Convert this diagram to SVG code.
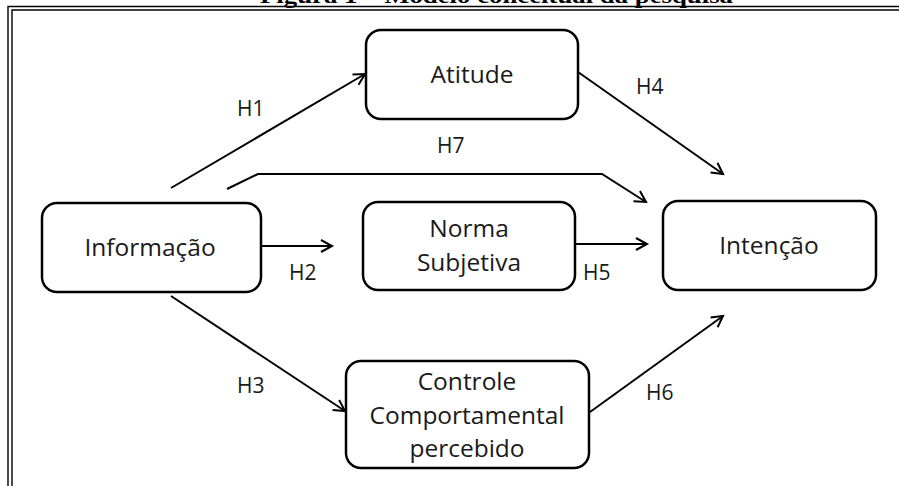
<svg xmlns="http://www.w3.org/2000/svg" width="899" height="486" viewBox="0 0 899 486">
<style>
.node rect{fill:#fff;stroke:#000;stroke-width:2.5}
.node text{font-family:"Open Sans","Liberation Sans",sans-serif;font-size:24.5px;fill:#1a1a1a;text-anchor:middle}
.lbl{font-family:"Open Sans","Liberation Sans",sans-serif;font-size:21px;fill:#1a1a1a}
.conn{fill:none;stroke:#000;stroke-width:2;marker-end:url(#arr)}
.frame{stroke:#000;stroke-width:1.4;fill:none}
</style>
<defs>
<marker id="arr" markerUnits="userSpaceOnUse" markerWidth="16" markerHeight="16" refX="12" refY="7" orient="auto" viewBox="0 0 16 14">
<path d="M1,1 L12,7 L1,13" fill="none" stroke="#000" stroke-width="2"/>
</marker>
</defs>
<rect width="899" height="486" fill="#fff"/>
<text x="260" y="3" font-family="Liberation Serif,serif" font-weight="bold" font-size="22" textLength="473" lengthAdjust="spacingAndGlyphs" fill="#000">Figura 1 – Modelo conceitual da pesquisa</text>
<g id="frame">
<path class="frame" d="M8,486 V6.5 H899 M12,486 V10 H899"/>
</g>
<g id="connectors">
<line class="conn" x1="171" y1="188" x2="365" y2="74"/>
<polyline class="conn" points="227,189 258,174 602,174 646,202"/>
<line class="conn" x1="578" y1="72" x2="723" y2="174"/>
<line class="conn" x1="261" y1="246" x2="332" y2="246"/>
<line class="conn" x1="575" y1="244" x2="647" y2="244"/>
<line class="conn" x1="171" y1="296" x2="345" y2="411"/>
<line class="conn" x1="590" y1="412" x2="723" y2="316"/>
</g>
<g id="labels">
<text class="lbl" x="237" y="116">H1</text>
<text class="lbl" x="636" y="94">H4</text>
<text class="lbl" x="437" y="153">H7</text>
<text class="lbl" x="289" y="280">H2</text>
<text class="lbl" x="583" y="280">H5</text>
<text class="lbl" x="237" y="393">H3</text>
<text class="lbl" x="646" y="400">H6</text>
</g>
<g id="informacao" class="node">
<rect x="42" y="203" width="219" height="89" rx="15"/>
<text x="150" y="256">Informação</text>
</g>
<g id="atitude" class="node">
<rect x="366" y="30" width="212" height="89" rx="15"/>
<text x="472" y="83">Atitude</text>
</g>
<g id="norma" class="node">
<rect x="363" y="202" width="212" height="88" rx="15"/>
<text x="469" y="237">Norma</text>
<text x="469" y="271">Subjetiva</text>
</g>
<g id="intencao" class="node">
<rect x="663" y="201" width="213" height="89" rx="15"/>
<text x="769" y="254">Intenção</text>
</g>
<g id="controle" class="node">
<rect x="346" y="361" width="243" height="107" rx="15"/>
<text x="467" y="390">Controle</text>
<text x="467" y="424">Comportamental</text>
<text x="467" y="457">percebido</text>
</g>
</svg>
